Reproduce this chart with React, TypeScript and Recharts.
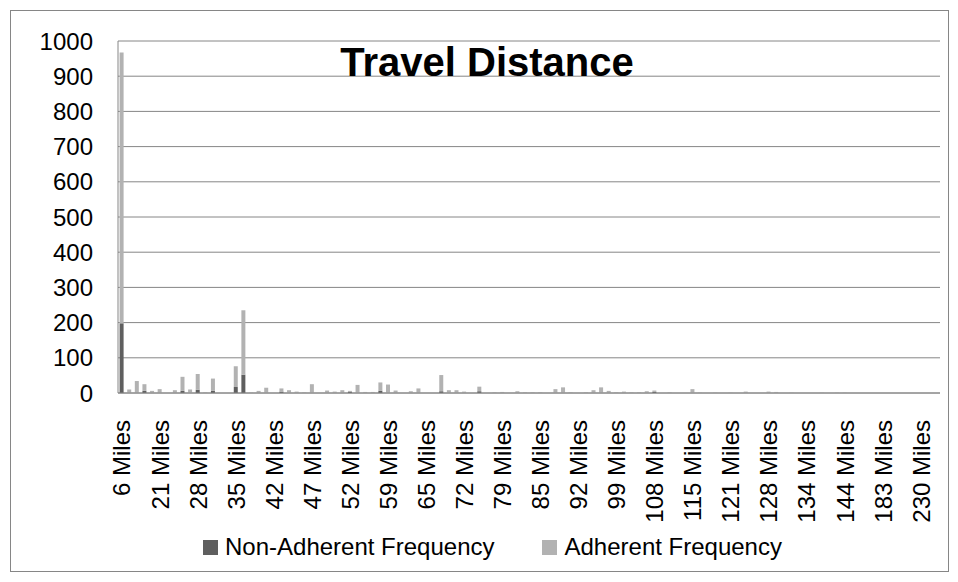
import { BarChart, Bar, XAxis, YAxis, CartesianGrid, Legend } from 'recharts';

// travel distance buckets (miles)
const distances = [
  6, 9, 12, 15, 18, 21, 22, 23, 24, 26,
  28, 29, 30, 31, 33, 35, 36, 37, 38, 40,
  42, 43, 44, 45, 46, 47, 48, 49, 50, 51,
  52, 53, 55, 56, 58, 59, 60, 61, 62, 63,
  65, 66, 68, 69, 70, 72, 73, 75, 76, 78,
  79, 80, 81, 83, 84, 85, 86, 88, 89, 90,
  92, 93, 95, 96, 98, 99, 101, 102, 104, 106,
  108, 109, 111, 112, 114, 115, 116, 117, 119, 120,
  121, 123, 124, 125, 127, 128, 129, 130, 132, 133,
  134, 136, 138, 140, 142, 144, 150, 155, 162, 170,
  183, 190, 198, 205, 215, 230, 245, 260,
];

const nonAdherent = [
  198, 0, 0, 6, 0, 0, 0, 0, 6, 0,
  9, 0, 6, 0, 0, 17, 52, 0, 0, 0,
  0, 4, 0, 0, 0, 0, 0, 0, 0, 0,
  4, 0, 0, 0, 6, 0, 0, 0, 0, 0,
  0, 0, 5, 0, 0, 0, 0, 5, 0, 0,
  0, 0, 0, 0, 0, 0, 0, 0, 0, 0,
  0, 0, 0, 0, 0, 0, 0, 0, 0, 0,
  3, 0, 0, 0, 0, 0, 0, 0, 0, 0,
  0, 0, 0, 0, 0, 0, 0, 0, 0, 0,
  0, 0, 0, 0, 0, 0, 0, 0, 0, 0,
  0, 0, 0, 0, 0, 0, 0, 0,
];

const adherent = [
  769, 10, 34, 19, 6, 11, 0, 8, 40, 10,
  45, 2, 35, 0, 0, 59, 183, 1, 6, 15,
  0, 9, 8, 4, 2, 25, 0, 7, 4, 8,
  2, 23, 3, 3, 24, 24, 7, 0, 5, 13,
  0, 0, 46, 8, 8, 4, 0, 13, 0, 2,
  3, 0, 5, 2, 2, 2, 0, 11, 16, 2,
  0, 2, 8, 16, 6, 2, 4, 2, 2, 5,
  4, 0, 2, 0, 0, 11, 1, 0, 1, 0,
  1, 0, 4, 0, 0, 4, 3, 0, 1, 0,
  0, 0, 1, 0, 1, 1, 0, 0, 0, 0,
  0, 0, 0, 0, 0, 0, 0, 0,
];

const yTicks = [0, 100, 200, 300, 400, 500, 600, 700, 800, 900, 1000];

const data = distances.map((d, i) => ({
  name: `${d} Miles`,
  nonAdherent: nonAdherent[i],
  adherent: adherent[i],
}));

const FONT = '"Liberation Sans", Arial, sans-serif';
const DARK = '#5f5f5f';
const LIGHT = '#b2b2b2';
const LINE = '#868686';

function MilesTick({ x, y, payload }: any) {
  return (
    <text
      transform={`translate(${x},${y + 27}) rotate(-90)`}
      textAnchor="end"
      dy="0.36em"
      fontSize={24}
      fontFamily={FONT}
      fill="#000"
    >
      {payload.value}
    </text>
  );
}

function LegendContent() {
  const items = [
    { label: 'Non-Adherent Frequency', color: DARK },
    { label: 'Adherent Frequency', color: LIGHT },
  ];
  return (
    <div style={{ display: 'flex', alignItems: 'center', height: 40, paddingLeft: 203, fontFamily: FONT, fontSize: 24 }}>
      {items.map((it, i) => (
        <div key={it.label} style={{ display: 'flex', alignItems: 'center', marginLeft: i === 0 ? 0 : 48 }}>
          <span style={{ width: 15, height: 15, background: it.color, display: 'inline-block', marginRight: 7 }} />
          <span style={{ color: '#000', lineHeight: '40px' }}>{it.label}</span>
        </div>
      ))}
    </div>
  );
}

export default function App() {
  return (
    <div style={{ position: 'absolute', left: 0, top: 0, width: 958, height: 582, background: '#fff' }}>
      <div
        style={{
          position: 'absolute',
          left: 10,
          top: 10,
          width: 939,
          height: 562,
          border: `1px solid ${LINE}`,
          boxSizing: 'border-box',
        }}
      />
      <BarChart
        width={958}
        height={582}
        data={data}
        margin={{ top: 41, right: 18, bottom: 15, left: 0 }}
        barCategoryGap="21%"
      >
        <CartesianGrid horizontal vertical={false} stroke={LINE} />
        <XAxis
          dataKey="name"
          interval={4}
          tick={<MilesTick />}
          tickLine={false}
          tickSize={0}
          tickMargin={0}
          height={134}
          axisLine={{ stroke: LINE }}
        />
        <YAxis
          domain={[0, 1000]}
          ticks={yTicks}
          width={118}
          tickLine={false}
          tickSize={0}
          tickMargin={25}
          axisLine={{ stroke: LINE }}
          tick={{ fontSize: 24, fontFamily: FONT, fill: '#000' }}
        />
        <Legend verticalAlign="bottom" height={40} content={<LegendContent />} />
        <Bar dataKey="nonAdherent" stackId="a" fill={DARK} isAnimationActive={false} />
        <Bar dataKey="adherent" stackId="a" fill={LIGHT} isAnimationActive={false} />
      </BarChart>
      <div
        style={{
          position: 'absolute',
          left: 0,
          width: 974,
          top: 42,
          textAlign: 'center',
          fontFamily: FONT,
          fontWeight: 'bold',
          fontSize: 40,
          lineHeight: '40px',
          color: '#000',
          pointerEvents: 'none',
        }}
      >
        Travel Distance
      </div>
    </div>
  );
}
